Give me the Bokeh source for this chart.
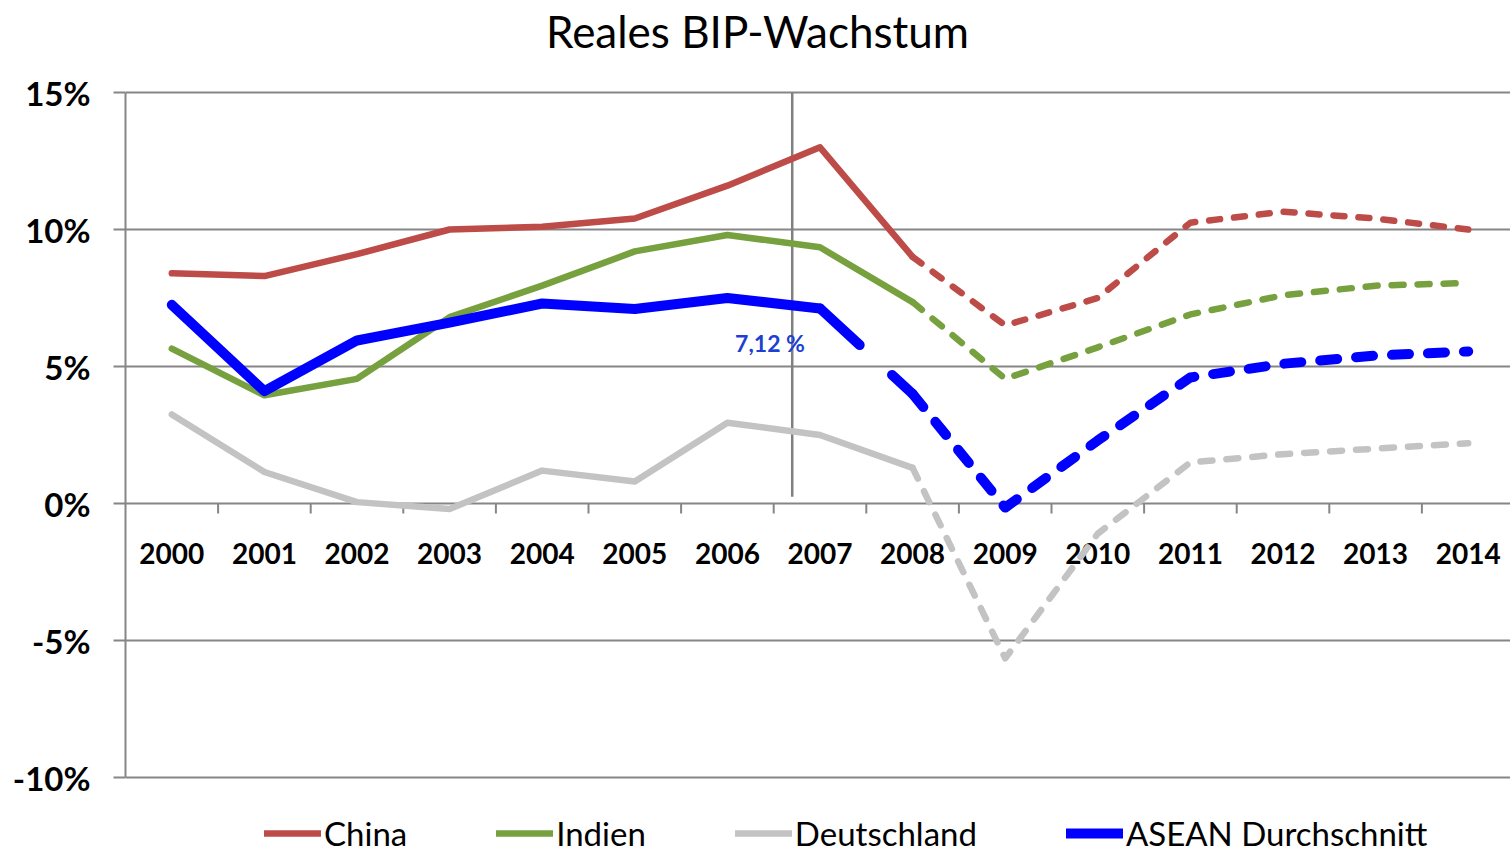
from bokeh.plotting import figure
from bokeh.models import Range1d, FixedTicker, Legend, LegendItem, PrintfTickFormatter
from bokeh.embed import file_html
from bokeh.resources import INLINE
from bokeh.core.properties import value

# ---------------- data ----------------
years = ["2000", "2001", "2002", "2003", "2004", "2005", "2006", "2007",
         "2008", "2009", "2010", "2011", "2012", "2013", "2014"]
china = [8.4, 8.3, 9.1, 10.0, 10.1, 10.4, 11.6, 13.0, 9.0, 6.5, 7.5, 10.25, 10.65, 10.4, 10.0]
indien = [5.65, 3.95, 4.55, 6.8, 7.95, 9.2, 9.8, 9.35, 7.35, 4.55, 5.7, 6.9, 7.6, 7.95, 8.05]
deutschland = [3.25, 1.15, 0.05, -0.2, 1.2, 0.8, 2.95, 2.5, 1.3, -5.65, -1.1, 1.5, 1.8, 2.0, 2.2]
asean = [7.25, 4.1, 5.95, 6.6, 7.3, 7.1, 7.5, 7.12, 4.0, -0.15, 2.3, 4.6, 5.1, 5.4, 5.55]
names = ["China", "Indien", "Deutschland", "ASEAN Durchschnitt"]
title_text = "Reales BIP-Wachstum"
last_actual = "2008"          # solid up to here, forecast dashed afterwards
y_ticks = [-10, -5, 0, 5, 10, 15]
marker_x = 6.7                # vertical marker line between 2006 and 2007
marker_top, marker_bottom = 15, 0.25
label_year = "2007"           # data label on ASEAN

# ---------------- layout ----------------
W, H = 1510, 853
LEFT = 125                     # plot area left edge (px)
TOP_PX, BOTTOM_PX = 92, 777    # pixel rows of 15% and -10%
px_per_unit = (BOTTOM_PX - TOP_PX) / (y_ticks[-1] - y_ticks[0])
px_per_cat = 92.6
y_top = y_ticks[-1] + TOP_PX / px_per_unit
y_bottom = y_ticks[0] - (H - BOTTOM_PX) / px_per_unit
x_end = -0.5 + (W - LEFT) / px_per_cat

# ---------------- style ----------------
FONT = "Lato"
GRID = "#868686"
colors = {"China": "#bd4b48", "Indien": "#77a03f",
          "Deutschland": "#c3c3c3", "ASEAN Durchschnitt": "#0000ff"}
widths = {"China": 6.5, "Indien": 6.5, "Deutschland": 6.5, "ASEAN Durchschnitt": 10}
dashes = {"China": "11 14", "Indien": "12 14", "Deutschland": "12 14",
          "ASEAN Durchschnitt": "17 19"}

xs = list(range(len(years)))
k = years.index(last_actual)

p = figure(width=W, height=H, x_range=Range1d(-0.5, x_end), y_range=Range1d(y_bottom, y_top),
           output_backend="svg", toolbar_location=None, x_axis_location=None,
           min_border_left=LEFT, min_border_right=0, min_border_top=0, min_border_bottom=0)
p.outline_line_color = None
p.background_fill_color = "white"
p.border_fill_color = "white"
p.xgrid.visible = False
p.ygrid.ticker = FixedTicker(ticks=y_ticks)
p.ygrid.grid_line_color = GRID
p.ygrid.grid_line_width = 2

p.yaxis.ticker = FixedTicker(ticks=y_ticks)
p.yaxis.bounds = (y_ticks[0], y_ticks[-1])
p.yaxis.formatter = PrintfTickFormatter(format="%d%%")
p.yaxis.axis_line_color = GRID
p.yaxis.axis_line_width = 2
p.yaxis.major_tick_line_color = GRID
p.yaxis.major_tick_line_width = 2
p.yaxis.major_tick_out = 12
p.yaxis.major_tick_in = 0
p.yaxis.minor_tick_line_color = None
p.yaxis.major_label_standoff = 23
p.yaxis.major_label_text_font = FONT
p.yaxis.major_label_text_font_style = "bold"
p.yaxis.major_label_text_font_size = "33px"
p.yaxis.major_label_text_color = "black"

# title (drawn as text above the 15% line)
p.text(x=[-0.5 + (757 - LEFT) / px_per_cat], y=[y_ticks[-1] + 62 / px_per_unit],
       text=[title_text], text_font=value(FONT), text_font_size="44px",
       text_align="center", text_baseline="middle", text_color="black")

# category boundary ticks on the 0% line and year labels
tick_len = 10 / px_per_unit
bx = [i + 0.5 for i in xs[:-1]]
p.segment(x0=bx, y0=[0] * len(bx), x1=bx, y1=[-tick_len] * len(bx),
          line_color=GRID, line_width=2)
p.text(x=xs, y=[-50 / px_per_unit] * len(xs), text=years, text_font=value(FONT),
       text_font_style="bold", text_font_size="28px", text_align="center",
       text_baseline="middle", text_color="black")

# vertical marker line
p.segment(x0=[marker_x], y0=[marker_top], x1=[marker_x], y1=[marker_bottom],
          line_color="#808080", line_width=2.5)

series = {"China": china, "Indien": indien, "Deutschland": deutschland,
          "ASEAN Durchschnitt": asean}
items = []
for name in names:
    vals = series[name]
    c, w, d = colors[name], widths[name], dashes[name]
    if name == "ASEAN Durchschnitt":
        r = p.line(xs[:k], vals[:k], line_color=c, line_width=w,
                   line_join="round", line_cap="round")
        p.line(xs[k - 1:k + 1], vals[k - 1:k + 1], line_color=c, line_width=w,
               line_join="round", line_cap="round", line_dash="54 44 100")
    else:
        r = p.line(xs[:k + 1], vals[:k + 1], line_color=c, line_width=w,
                   line_join="round", line_cap="round")
    p.line(xs[k:], vals[k:], line_color=c, line_width=w, line_join="round",
           line_cap="round", line_dash=d)
    items.append(LegendItem(label=name, renderers=[r]))

li = years.index(label_year)
lbl = f"{asean[li]:.2f}".replace(".", ",") + " %"
p.text(x=[xs[li]], y=[asean[li]], text=[lbl], x_offset=-50, y_offset=35,
       text_font=value(FONT), text_font_style="bold", text_font_size="23px",
       text_align="center", text_baseline="middle", text_color="#1d3fd2")

legend = Legend(items=items, orientation="horizontal", location=(139, 0),
                glyph_width=57, glyph_height=30, label_standoff=3, spacing=89,
                padding=0, margin=0, border_line_color=None,
                background_fill_alpha=0, label_text_font=FONT,
                label_text_font_size="33px", label_text_color="black")
p.add_layout(legend, "center")

open("out.html", "w").write(file_html(p, INLINE))
